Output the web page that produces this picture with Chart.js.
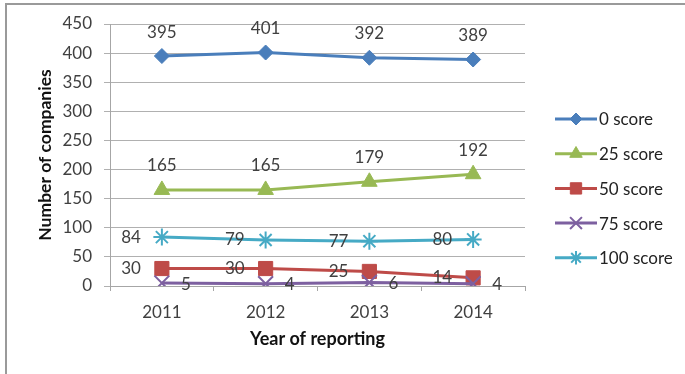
<!DOCTYPE html>
<html>
<head>
<script src="https://cdn.jsdelivr.net/npm/chart.js@4.4.0/dist/chart.umd.min.js"></script>
<style>
    body { margin: 0; background: #fff; }
    #wrap { position: relative; width: 685px; height: 374px; overflow: hidden; }
    #frame { position: absolute; left: 5px; top: 3px; width: 700px; height: 400px; border: 2px solid #9a9a9a; }
    canvas { position: absolute; left: 0; top: 0; }
</style>
</head>
<body>
<div id="wrap">
    <div id="frame"></div>
    <canvas id="chart" width="685" height="374"></canvas>
</div>
<script>
    // values
    const years = ["2011", "2012", "2013", "2014"];
    const score0 = [395, 401, 392, 389];
    const score25 = [165, 165, 179, 192];
    const score50 = [30, 30, 25, 14];
    const score75 = [5, 4, 6, 4];
    const score100 = [84, 79, 77, 80];
    const seriesNames = ["0 score", "25 score", "50 score", "75 score", "100 score"];
    const yTicks = [0, 50, 100, 150, 200, 250, 300, 350, 400, 450];

    const FONT = "Lato";
    const TXT = "#404040";

    function series(i, data, colour, style, radius, labelPos) {
        const filled = style !== "crossRot" && style !== "star";
        return {
            label: seriesNames[i],
            data: data,
            borderColor: colour,
            backgroundColor: colour,
            borderWidth: 3,
            pointStyle: style,
            pointRadius: radius,
            pointHoverRadius: radius,
            pointBorderWidth: filled ? 1 : 2,
            pointBackgroundColor: colour,
            pointBorderColor: colour,
            order: 4 - i,
            labelPos: labelPos
        };
    }

    const datasets = [
        series(0, score0, "#4a7ebb", "rectRot", 7.5, "top"),
        series(1, score25, "#98b954", "triangle", 9, "top"),
        series(2, score50, "#be4b48", "rect", 10, "left"),
        series(3, score75, "#7d60a0", "crossRot", 10.5, "right"),
        series(4, score100, "#46aac5", "star", 8.5, "left")
    ];

    // data labels + legend drawn by hand, Excel style
    const excelBits = {
        id: "excelBits",
        afterDatasetsDraw(chart) {
            const ctx = chart.ctx;
            ctx.save();
            ctx.font = "17px " + FONT;
            ctx.fillStyle = TXT;
            ctx.textBaseline = "middle";
            chart.data.datasets.forEach((ds, i) => {
                const meta = chart.getDatasetMeta(i);
                meta.data.forEach((pt, j) => {
                    const txt = String(ds.data[j]);
                    if (ds.labelPos === "top") {
                        ctx.textAlign = "center";
                        ctx.fillText(txt, pt.x, pt.y - 24);
                    } else if (ds.labelPos === "left") {
                        ctx.textAlign = "right";
                        ctx.fillText(txt, pt.x - 21, pt.y);
                    } else {
                        ctx.textAlign = "left";
                        ctx.fillText(txt, pt.x + 19, pt.y + 1);
                    }
                });
            });

            // legend
            chart.data.datasets.forEach((ds, i) => {
                const y = 119 + i * 34.7;
                ctx.strokeStyle = ds.borderColor;
                ctx.lineWidth = 3;
                ctx.beginPath();
                ctx.moveTo(555, y);
                ctx.lineTo(597, y);
                ctx.stroke();
                ctx.fillStyle = ds.backgroundColor;
                ctx.lineWidth = ds.pointBorderWidth;
                Chart.helpers.drawPoint(ctx, {
                    pointStyle: ds.pointStyle,
                    radius: ds.pointRadius * 0.8,
                    rotation: 0,
                    borderWidth: ds.pointBorderWidth
                }, 576, y);
                ctx.fillStyle = "#222";
                ctx.textAlign = "left";
                ctx.fillText(ds.label, 599, y + 1);
            });
            ctx.restore();
        }
    };

    new Chart(document.getElementById("chart"), {
        type: "line",
        data: { labels: years, datasets: datasets },
        options: {
            responsive: false,
            animation: false,
            events: [],
            layout: { padding: { top: 24, right: 160, bottom: 18, left: 30 } },
            plugins: {
                legend: { display: false },
                tooltip: { enabled: false }
            },
            scales: {
                x: {
                    offset: true,
                    grid: { offset: true, drawOnChartArea: false, drawTicks: true, tickLength: 5, color: "#a6a6a6" },
                    border: { color: "#a6a6a6", width: 1 },
                    ticks: { color: TXT, font: { family: FONT, size: 17 }, padding: 11, maxRotation: 0 },
                    title: { display: true, text: "Year of reporting", color: "#111", font: { family: FONT, size: 18, weight: "bold" }, padding: { top: 0, bottom: 6 } },
                    afterFit(scale) { scale.height = 70; }
                },
                y: {
                    min: 0,
                    max: 450,
                    afterBuildTicks(scale) { scale.ticks = yTicks.map(v => ({ value: v })); },
                    grid: { color: "#b0b0b0", tickLength: 6, lineWidth: 1 },
                    border: { color: "#a6a6a6", width: 1 },
                    ticks: { color: TXT, font: { family: FONT, size: 17 }, padding: 12 },
                    title: { display: true, text: "Number of companies", color: "#111", font: { family: FONT, size: 17.5, weight: "bold" }, padding: { top: 5, bottom: 0 } },
                    afterFit(scale) { scale.width = 80; }
                }
            }
        },
        plugins: [excelBits]
    });
</script>
</body>
</html>
